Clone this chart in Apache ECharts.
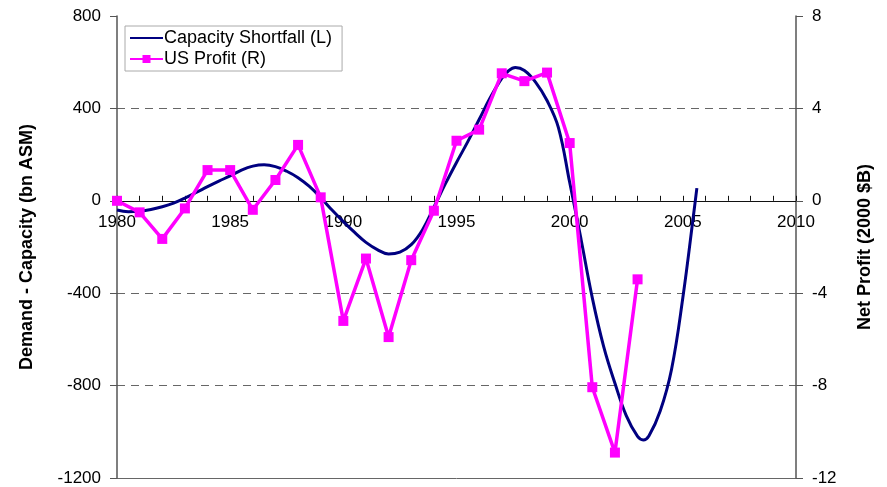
<!DOCTYPE html>
<html lang="en">
<head>
	<meta charset="UTF-8">
	<title>Capacity Shortfall vs US Profit</title>
	<script src="https://cdn.jsdelivr.net/npm/echarts@6/dist/echarts.min.js"></script>
	<style>
		html, body { margin: 0; padding: 0; background: #fff; }
	</style>
</head>
<body>
	<div id="chart" style="width:887px; height:487px;"></div>
	<script>
	// capacity shortfall, bn ASM (left axis), every half year
	// (a little closer round the peak and the trough)
	var shortfallYears = [1980, 1980.5, 1981, 1981.5, 1982, 1982.5, 1983, 1983.5, 1984, 1984.5,
		1985, 1985.5, 1986, 1986.5, 1987, 1987.5, 1988, 1988.5, 1989, 1989.5,
		1990, 1990.5, 1991, 1991.5, 1992, 1992.5, 1993, 1993.5, 1994, 1994.5,
		1995, 1995.5, 1996, 1996.5, 1997, 1997.3, 1997.6, 1998, 1998.5, 1999, 1999.5,
		2000, 2000.5, 2001, 2001.5, 2002, 2002.5, 2003, 2003.25, 2003.5, 2004, 2004.5,
		2005, 2005.5, 2005.62];
	var shortfall = [-40, -47, -45, -38, -26, -10, 12, 36, 61, 85,
		108, 133, 150, 156, 148, 128, 100, 62, 14, -40,
		-90, -137, -180, -211, -230, -222, -190, -125, -28, 72,
		166, 256, 352, 448, 530, 563, 577, 564, 513, 434, 318,
		80, -165, -420, -630, -790, -930, -1020, -1035, -1018, -910, -730,
		-420, -40, 55];

	// US net profit, 2000 $B (right axis)
	var profitYears = [1980, 1981, 1982, 1983, 1984, 1985, 1986, 1987, 1988, 1989, 1990, 1991, 1992, 1993, 1994, 1995, 1996, 1997, 1998, 1999, 2000, 2001, 2002, 2003];
	var profit = [0, -0.5, -1.65, -0.33, 1.33, 1.33, -0.39, 0.9, 2.42, 0.15, -5.2, -2.5, -5.9, -2.57, -0.43, 2.6, 3.08, 5.52, 5.18, 5.55, 2.5, -8.07, -10.9, -3.4];

	var leftTicks = [-1200, -800, -400, 0, 400, 800];
	var rightTicks = [-12, -8, -4, 0, 4, 8];

	function pairs(xs, ys) {
		var res = [];
		for (var i = 0; i < xs.length; i++) res.push([xs[i], ys[i]]);
		return res;
	}
	function plain(v) { return String(v); }

	var font = 'Liberation Sans, Arial, sans-serif';
	var none = 'rgba(0,0,0,0)';
	var gridTop = 16, gridBottom = 9, chartH = 487;
	// the year axis sits on the left axis' zero line
	var plotH = chartH - gridTop - gridBottom;
	var zeroOffset = -plotH * (0 - leftTicks[0]) / (leftTicks[leftTicks.length - 1] - leftTicks[0]);

	var myChart = echarts.init(document.getElementById('chart'));

	var option = {
		animation: false,
		textStyle: { fontFamily: font, color: '#000' },
		grid: { left: 117, right: 91, top: gridTop, bottom: gridBottom, containLabel: false, outerBoundsMode: 'none' },
		legend: {
			orient: 'vertical',
			left: 125,
			top: 26,
			padding: [3, 10, 3, 4],
			itemGap: 3,
			itemWidth: 33,
			itemHeight: 10,
			borderColor: '#aaa',
			borderWidth: 1,
			textStyle: { fontSize: 18, fontFamily: font, color: '#000', padding: [0, 0, 0, -4] },
			data: [
				{ name: 'Capacity Shortfall (L)', itemStyle: { color: none, borderWidth: 0 } },
				'US Profit (R)'
			]
		},
		xAxis: {
			type: 'value',
			min: 1980,
			max: 2010,
			interval: 5,
			offset: zeroOffset,
			axisLine: { onZero: false, lineStyle: { color: '#111', width: 1 } },
			axisTick: { show: true, inside: true, length: 5, lineStyle: { color: '#111' } },
			minorTick: { show: true, splitNumber: 5, length: 5, lineStyle: { color: '#111' } },
			axisLabel: { fontSize: 17, color: '#000', margin: 13, fontFamily: font, formatter: plain },
			splitLine: { show: false }
		},
		yAxis: [
			{
				type: 'value',
				min: leftTicks[0],
				max: leftTicks[leftTicks.length - 1],
				interval: 400,
				position: 'left',
				name: 'Demand - Capacity (bn ASM)',
				nameLocation: 'middle',
				nameRotate: 90,
				nameGap: 81,
				nameTextStyle: { fontSize: 18, fontWeight: 'bold', color: '#000', fontFamily: font },
				axisLine: { show: true, onZero: false, lineStyle: { color: '#555', width: 1.5 } },
				axisTick: { show: true, length: 7, lineStyle: { color: '#555' } },
				axisLabel: { fontSize: 17, color: '#000', margin: 16, fontFamily: font, formatter: plain },
				splitLine: {
					show: true,
					lineStyle: {
						color: [none, '#666', '#666', none, '#666', none],
						type: [8, 6],
						width: 1
					}
				}
			},
			{
				type: 'value',
				min: rightTicks[0],
				max: rightTicks[rightTicks.length - 1],
				interval: 4,
				position: 'right',
				name: 'Net Profit (2000 $B)',
				nameLocation: 'middle',
				nameRotate: 90,
				nameGap: 60,
				nameTextStyle: { fontSize: 18, fontWeight: 'bold', color: '#000', fontFamily: font },
				axisLine: { show: true, onZero: false, lineStyle: { color: '#555', width: 1.5 } },
				axisTick: { show: true, length: 7, lineStyle: { color: '#555' } },
				axisLabel: { fontSize: 17, color: '#000', margin: 16, fontFamily: font, formatter: plain },
				// only the bottom edge of the plot is drawn, solid
				splitLine: {
					show: true,
					lineStyle: { color: ['#666', none, none, none, none, none], width: 1 }
				}
			}
		],
		series: [
			{
				name: 'Capacity Shortfall (L)',
				type: 'line',
				xAxisIndex: 0,
				yAxisIndex: 0,
				smooth: 0.4,
				showSymbol: false,
				symbol: 'none',
				lineStyle: { color: '#000080', width: 3 },
				itemStyle: { color: '#000080' },
				data: pairs(shortfallYears, shortfall)
			},
			{
				name: 'US Profit (R)',
				type: 'line',
				xAxisIndex: 0,
				yAxisIndex: 1,
				symbol: 'rect',
				symbolSize: 10,
				lineStyle: { color: '#ff00ff', width: 3.5 },
				itemStyle: { color: '#ff00ff' },
				data: pairs(profitYears, profit)
			}
		]
	};

	myChart.setOption(option);
	</script>
</body>
</html>
